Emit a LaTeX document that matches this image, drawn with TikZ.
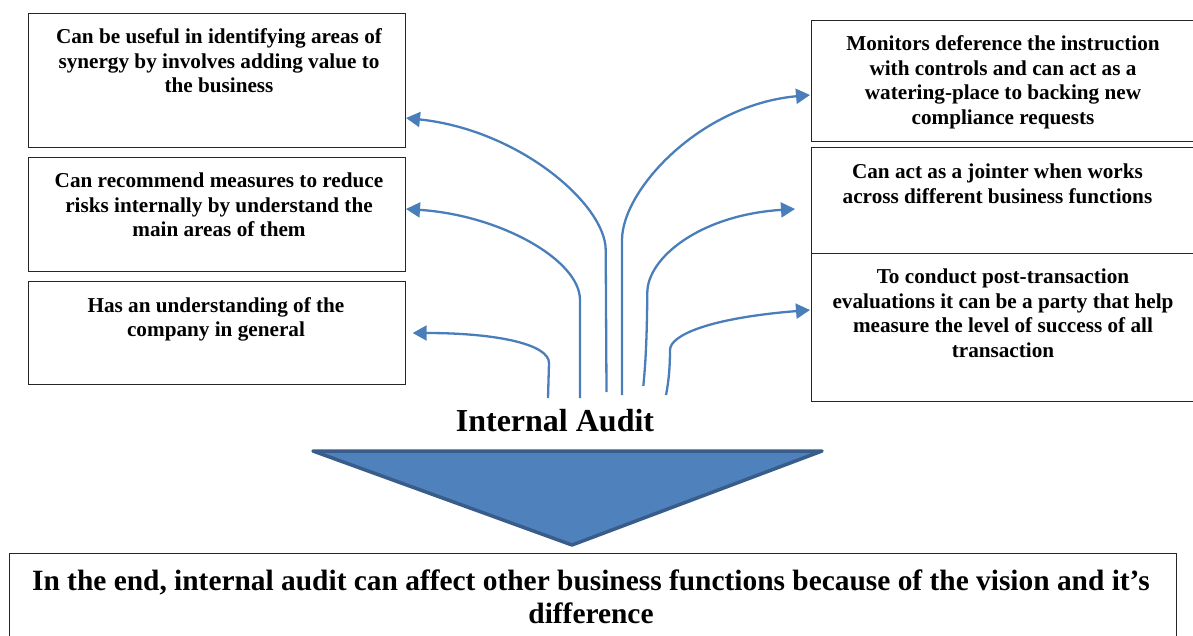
\documentclass[tikz,border=0pt]{standalone}
\usepackage{fontspec}
\setmainfont{Liberation Serif}
\usetikzlibrary{arrows.meta}
\definecolor{arrowblue}{HTML}{4A7EBB}
\definecolor{trifill}{HTML}{4F81BD}
\definecolor{triedge}{HTML}{385D8A}
\begin{document}
\begin{tikzpicture}[x=1pt,y=-1pt,
  boxstyle/.style={draw=black!85, line width=1.2pt, inner sep=0pt, anchor=north west},
  txt/.style={font=\fontsize{21.2}{24.6}\selectfont\bfseries, align=center, inner sep=0pt, anchor=north},
  conn/.style={draw=arrowblue, line width=2.3pt, -{Triangle[length=14pt,width=15pt]}}]
\useasboundingbox (0,0) rectangle (1193,636);

% left boxes
\node[boxstyle, minimum width=377pt, minimum height=134pt] (L1) at (28,13) {};
\node[boxstyle, minimum width=377pt, minimum height=114pt] (L2) at (28,157) {};
\node[boxstyle, minimum width=377pt, minimum height=103pt] (L3) at (28,281) {};
% right boxes
\node[boxstyle, minimum width=392pt, minimum height=121pt] (R1) at (810.7,20) {};
\node[boxstyle, minimum width=392pt, minimum height=106pt] (R2) at (810.7,147) {};
\node[boxstyle, minimum width=392pt, minimum height=148pt] (R3) at (810.7,253) {};
% bottom box
\node[boxstyle, minimum width=1167pt, minimum height=100pt] (B) at (9,553) {};

% texts
\node[txt] (tL1) at (219,28.5) {Can be useful in identifying areas of\\synergy by involves adding value to\\the business};
\node[txt] (tL2) at (219,172.5) {Can recommend measures to reduce\\risks internally by understand the\\main areas of them};
\node[txt] (tL3) at (216,297) {Has an understanding of the\\company in general};
\node[txt] (tR1) at (1003,35.5) {Monitors deference the instruction\\with controls and can act as a\\watering-place to backing new\\compliance requests};
\node[txt] (tR2) at (997.5,163.5) {Can act as a jointer when works\\across different business functions};
\node[txt] (tR3) at (1003,268.5) {To conduct post-transaction\\evaluations it can be a party that help\\measure the level of success of all\\transaction};
\node[txt, font=\fontsize{29.4}{33}\selectfont\bfseries] (tB) at (591,570) {In the end, internal audit can affect other business functions because of the vision and it’s\\difference};

\node[font=\fontsize{32}{38}\selectfont\bfseries, anchor=base, inner sep=0pt] (IA) at (555,431) {Internal Audit};

% triangle
\draw[fill=trifill, draw=triedge, line width=3.5pt, line join=round] (313,451) -- (822,451) -- (572,545) -- cycle;

% connector coordinates
\coordinate (sL1) at (606.5,392);
\coordinate (sL2) at (580,398);
\coordinate (sL3) at (548,398);
\coordinate (sR1) at (622,395);
\coordinate (sR2) at (643.3,386);
\coordinate (sR3) at (666,395);
\coordinate (eL1) at (406,118);
\coordinate (eL2) at (406,209);
\coordinate (eL3) at (412.7,333);
\coordinate (eR1) at (810,95);
\coordinate (eR2) at (795,209);
\coordinate (eR3) at (810,310);

\draw[conn] (sL1) -- (605.7,250) .. controls (605.7,205) and (520,130) .. (eL1);
\draw[conn] (sL2) -- (580,300) .. controls (580,260) and (500,215) .. (eL2);
\draw[conn] (sL3) -- (549,363) .. controls (549,345) and (500,333) .. (eL3);
\draw[conn] (sR1) -- (622,240) .. controls (622,190) and (700,105) .. (eR1);
\draw[conn] (sR2) .. controls (646,360) and (647,330) .. (647.3,293) .. controls (647,258) and (700,215) .. (eR2);
\draw[conn] (sR3) .. controls (669,380) and (670,365) .. (670,350) .. controls (670,335) and (710,318) .. (eR3);
\end{tikzpicture}
\end{document}
